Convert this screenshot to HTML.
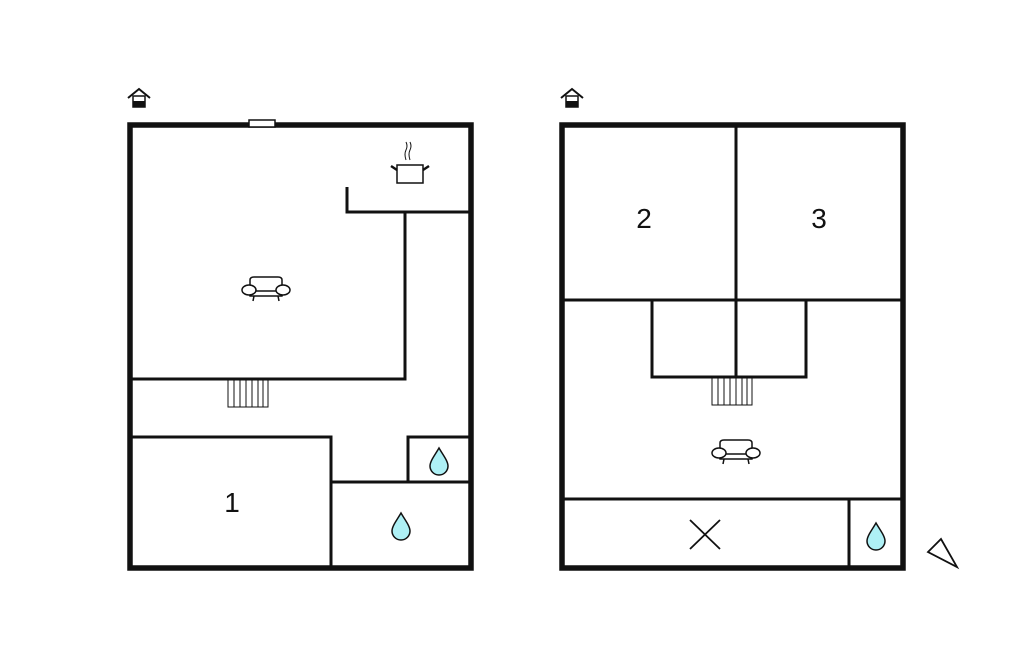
<!DOCTYPE html>
<html><head><meta charset="utf-8"><style>
html,body{margin:0;padding:0;background:#fff;width:1024px;height:652px;overflow:hidden}
svg{display:block}
text{font-family:"Liberation Sans",sans-serif;font-size:28px;fill:#111}
</style></head><body>
<svg width="1024" height="652" viewBox="0 0 1024 652" xmlns="http://www.w3.org/2000/svg">
<defs>
<g id="sofa" fill="#fff" stroke="#111" stroke-width="1.5">
<path d="M-16 -3 L-16 -9 Q-16 -12 -12 -12 L12 -12 Q16 -12 16 -9 L16 -3"/>
<path d="M-18 0 L-16 7 L16 7 L18 0"/>
<line x1="-15" y1="2" x2="15" y2="2"/>
<ellipse cx="-17" cy="1" rx="7" ry="5"/>
<ellipse cx="17" cy="1" rx="7" ry="5"/>
<line x1="-12" y1="7" x2="-13" y2="12"/>
<line x1="12" y1="7" x2="13" y2="12"/>
</g>
<g id="drop"><path d="M0 -13 C-4 -6 -9 0 -9 5 A9 9 0 0 0 9 5 C9 0 4 -6 0 -13 Z" fill="#aef0f5" stroke="#111" stroke-width="1.5"/></g>
<g id="house"><path d="M-11 -1 L0 -10 L11 -1" fill="none" stroke="#111" stroke-width="2"/><rect x="-6" y="-3" width="12" height="11" fill="#fff" stroke="#111" stroke-width="1.5"/><rect x="-6" y="2" width="12" height="6" fill="#111"/></g>
<g id="stairs" stroke="#111" stroke-width="1" fill="#fff"><rect x="0" y="0" width="40" height="27"/><line x1="6" y1="0" x2="6" y2="27"/><line x1="12" y1="0" x2="12" y2="27"/><line x1="18" y1="0" x2="18" y2="27"/><line x1="24" y1="0" x2="24" y2="27"/><line x1="30" y1="0" x2="30" y2="27"/><line x1="35" y1="0" x2="35" y2="27"/></g>
</defs>

<!-- LEFT PLAN -->
<use href="#house" x="139" y="99"/>
<g stroke="#111" fill="none">
<rect x="130" y="125" width="341" height="443" stroke-width="5.5"/>
<polyline points="347,187 347,212 470,212" stroke-width="3"/>
<polyline points="405,212 405,379 130,379" stroke-width="3"/>
<polyline points="130,437 331,437 331,568" stroke-width="3"/>
<polyline points="408,482 408,437 470,437" stroke-width="3"/>
<line x1="331" y1="482" x2="470" y2="482" stroke-width="3"/>
</g>
<rect x="249" y="120" width="26" height="7" fill="#fff" stroke="#111" stroke-width="1.5"/>
<use href="#stairs" x="228" y="380"/>
<use href="#sofa" x="266" y="289"/>
<g stroke="#111" stroke-width="1.5" fill="#fff">
<rect x="397" y="165" width="26" height="18"/>
<line x1="397" y1="170" x2="391" y2="166" stroke-width="2.5"/><line x1="423" y1="170" x2="429" y2="166" stroke-width="2.5"/>
<path d="M406 160 Q404 154 406 150 Q408 146 406 142" fill="none" stroke-width="1"/>
<path d="M410 160 Q408 154 410 150 Q412 146 410 142" fill="none" stroke-width="1"/>
</g>
<use href="#drop" x="439" y="461"/>
<use href="#drop" x="401" y="526"/>
<text x="232" y="512" text-anchor="middle">1</text>

<!-- RIGHT PLAN -->
<use href="#house" x="572" y="99"/>
<g stroke="#111" fill="none">
<rect x="562" y="125" width="341" height="443" stroke-width="5.5"/>
<line x1="736" y1="125" x2="736" y2="378" stroke-width="3"/>
<line x1="562" y1="300" x2="903" y2="300" stroke-width="3"/>
<polyline points="652,300 652,377 806,377 806,300" stroke-width="3"/>
<line x1="562" y1="499" x2="903" y2="499" stroke-width="3"/>
<line x1="849" y1="499" x2="849" y2="568" stroke-width="3"/>
<line x1="690" y1="520" x2="720" y2="549" stroke-width="1.8"/>
<line x1="720" y1="520" x2="690" y2="549" stroke-width="1.8"/>
<polygon points="928,552 941,539 957,567" stroke-width="1.8"/>
</g>
<use href="#stairs" x="712" y="378"/>
<use href="#sofa" x="736" y="452"/>
<use href="#drop" x="876" y="536"/>
<text x="644" y="228" text-anchor="middle">2</text>
<text x="819" y="228" text-anchor="middle">3</text>
</svg>
</body></html>
